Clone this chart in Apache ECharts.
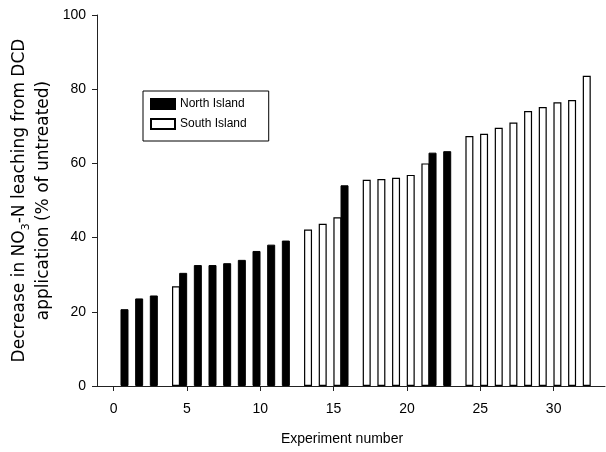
<!DOCTYPE html>
<html>
<head>
<meta charset="utf-8">
<script src="https://cdn.jsdelivr.net/npm/echarts@6/dist/echarts.min.js"></script>
<style>
  html, body { margin: 0; padding: 0; background: #fff; }
  #chart { width: 606px; height: 452px; }
</style>
</head>
<body>
<div id="chart"></div>
<script>
// experiment numbers and decrease (%) per island
const northExp = [1, 2, 3, 5, 6, 7, 8, 9, 10, 11, 12, 16, 22, 23];
const northVal = [20.7, 23.6, 24.4, 30.5, 32.6, 32.6, 33.1, 34.0, 36.4, 38.1, 39.2, 54.1, 62.9, 63.3];
const southExp = [4, 13, 14, 15, 17, 18, 19, 20, 21, 24, 25, 26, 27, 28, 29, 30, 31, 32];
const southVal = [26.9, 42.2, 43.7, 45.5, 55.6, 55.8, 56.1, 56.9, 60.0, 67.4, 68.0, 69.6, 71.0, 74.1, 75.2, 76.5, 77.1, 83.6];
const xTicks = [0, 5, 10, 15, 20, 25, 30];
const yTicks = [0, 20, 40, 60, 80, 100];

const font = "Liberation Sans, Arial, sans-serif";
const titleFont = "DejaVu Sans, sans-serif";
const axisColor = "#222";

const chart = echarts.init(document.getElementById("chart"));

chart.setOption({
  animation: false,
  grid: { left: 97, right: 1, top: 15, bottom: 66, containLabel: false, outerBoundsMode: "none" },
  legend: {
    orient: "vertical",
    left: 143,
    top: 91,
    data: ["North Island", "South Island"],
    icon: "rect",
    itemWidth: 24,
    itemHeight: 10,
    itemGap: 8,
    padding: [7, 22, 11, 7],
    borderColor: "#000",
    borderWidth: 1,
    textStyle: { color: "#000", fontSize: 12, fontFamily: font },
  },
  xAxis: {
    type: "value",
    min: -1.13,
    max: 33.5,
    name: "Experiment number",
    nameLocation: "middle",
    nameGap: 46,
    nameMoveOverlap: false,
    nameTextStyle: { color: "#000", fontSize: 14, fontFamily: font, padding: [0, 18, 0, 0] },
    axisLine: { show: true, onZero: false, lineStyle: { color: axisColor, width: 1 } },
    axisTick: { show: true, length: 5, customValues: xTicks, lineStyle: { color: axisColor } },
    axisLabel: {
      customValues: xTicks,
      margin: 16,
      color: "#000",
      fontSize: 14,
      fontFamily: font,
    },
    splitLine: { show: false },
  },
  yAxis: {
    type: "value",
    min: 0,
    max: 100,
    interval: 20,
    name: "Decrease in NO{sub|3}-N leaching from DCD\napplication (% of untreated)",
    nameLocation: "middle",
    nameRotate: 90,
    nameGap: 41,
    nameMoveOverlap: false,
    nameTextStyle: {
      color: "#000",
      fontSize: 17,
      lineHeight: 24,
      fontFamily: titleFont,
      rich: {
        sub: { fontSize: 11, lineHeight: 24, verticalAlign: "bottom", fontFamily: titleFont, color: "#000" },
      },
    },
    axisLine: { show: true, onZero: false, lineStyle: { color: axisColor, width: 1 } },
    axisTick: { show: true, length: 5, customValues: yTicks, lineStyle: { color: axisColor } },
    axisLabel: { margin: 11, color: "#000", fontSize: 14, fontFamily: font },
    splitLine: { show: false },
  },
  series: [
    {
      name: "North Island",
      type: "bar",
      barWidth: 8,
      barGap: "-6%",
      data: northExp.map((x, i) => [x, northVal[i]]),
      itemStyle: { color: "#000", borderColor: "#000", borderWidth: 1 },
    },
    {
      name: "South Island",
      type: "bar",
      barWidth: 8,
      barGap: "-6%",
      data: southExp.map((x, i) => [x, southVal[i]]),
      itemStyle: { color: "#fff", borderColor: "#000", borderWidth: 1.2 },
    },
  ],
});
</script>
</body>
</html>
